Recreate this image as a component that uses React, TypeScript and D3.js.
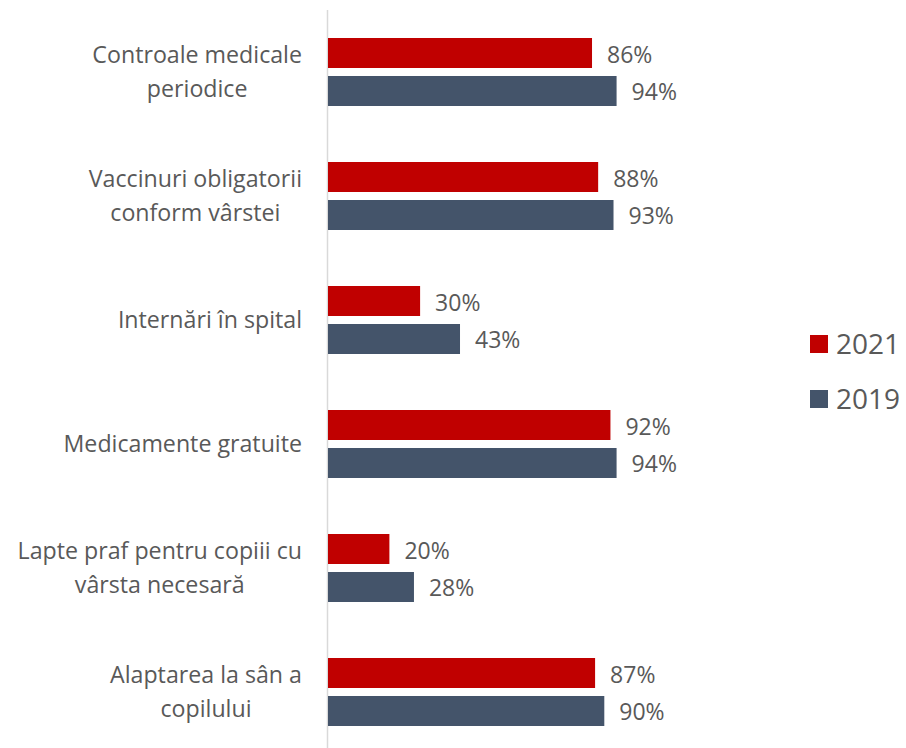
import React, { useEffect, useRef } from "react";
import * as d3 from "d3";

const categories = [
  "Controale medicale\nperiodice",
  "Vaccinuri obligatorii\nconform vârstei",
  "Internări în spital",
  "Medicamente gratuite",
  "Lapte praf pentru copiii cu\nvârsta necesară",
  "Alaptarea la sân a\ncopilului",
];
const seriesNames = ["2021", "2019"];
const values2021 = [0.86, 0.88, 0.3, 0.92, 0.2, 0.87];
const values2019 = [0.94, 0.93, 0.43, 0.94, 0.28, 0.9];
const colors = ["#C00000", "#44546A"];

const W = 906;
const H = 748;
const FONT = "'Open Sans', 'Liberation Sans', sans-serif";
const TEXT = "#595959";

export default function App() {
  const ref = useRef<SVGSVGElement>(null);

  useEffect(() => {
    const svg = d3.select(ref.current);
    svg.selectAll("*").remove();

    const x = d3.scaleLinear().domain([0, 1]).range([328, 635]);
    const y = d3.scaleBand<string>().domain(categories).range([10, 754]).paddingInner(0);
    const inner = d3.scaleBand<string>().domain(seriesNames).range([28, 96]).paddingInner(0.2105);
    const series = [values2021, values2019];

    // axis line
    svg
      .append("line")
      .attr("x1", 327.5)
      .attr("x2", 327.5)
      .attr("y1", 10)
      .attr("y2", H)
      .attr("stroke", "#d9d9d9")
      .attr("stroke-width", 1.5);

    // bars
    seriesNames.forEach((s, si) => {
      const g = svg.append("g");
      categories.forEach((c, ci) => {
        const v = series[si][ci];
        const y0 = (y(c) as number) + (inner(s) as number);
        g.append("rect")
          .attr("x", x(0))
          .attr("y", y0)
          .attr("width", x(v) - x(0))
          .attr("height", inner.bandwidth())
          .attr("fill", colors[si]);
        g.append("text")
          .attr("x", x(v) + 15)
          .attr("y", y0 + inner.bandwidth() / 2 + 9.5)
          .attr("font-family", FONT)
          .attr("font-size", 23)
          .attr("fill", TEXT)
          .text(d3.format(".0%")(v));
      });
    });

    // category labels
    categories.forEach((c) => {
      const lines = c.split("\n");
      const center = (y(c) as number) + y.bandwidth() / 2;
      const t = svg
        .append("text")
        .attr("font-family", FONT)
        .attr("font-size", 23.2)
        .attr("fill", TEXT)
        .attr("text-anchor", "middle");
      const tsp = lines.map((l, i) =>
        t
          .append("tspan")
          .attr("y", lines.length === 1 ? center + 7.5 : center - 9 + i * 33.5)
          .text(l)
      );
      const maxW = d3.max(tsp, (n) => (n.node() as SVGTSpanElement).getComputedTextLength()) || 0;
      tsp.forEach((n) => n.attr("x", 302 - maxW / 2));
    });

    // legend
    seriesNames.forEach((s, si) => {
      const top = 335 + si * 55;
      svg
        .append("rect")
        .attr("x", 810)
        .attr("y", top)
        .attr("width", 18)
        .attr("height", 18)
        .attr("fill", colors[si]);
      svg
        .append("text")
        .attr("x", 836)
        .attr("y", top + 18.5)
        .attr("font-family", FONT)
        .attr("font-size", 28)
        .attr("fill", TEXT)
        .text(s);
    });
  }, []);

  return (
    <svg
      ref={ref}
      width={W}
      height={H}
      style={{ position: "absolute", left: 0, top: 0, background: "#fff" }}
    />
  );
}
